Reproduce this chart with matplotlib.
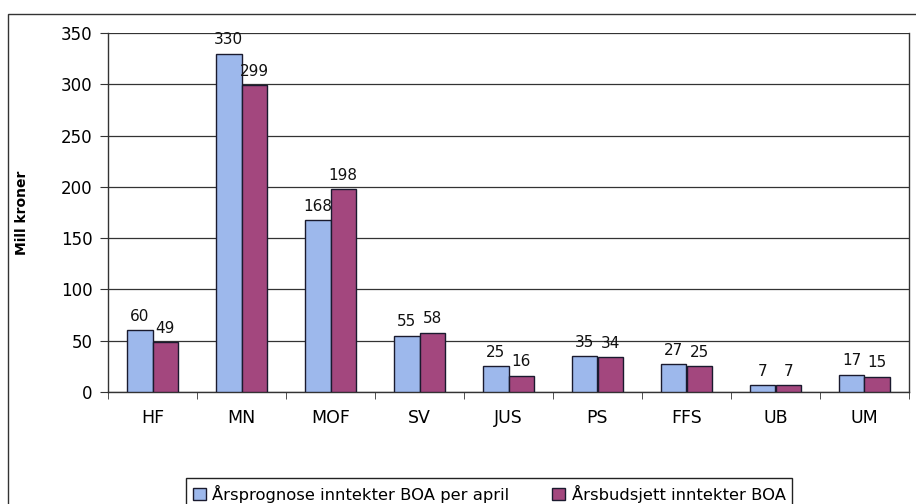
import numpy as np
import matplotlib
matplotlib.use("Agg")
import matplotlib.pyplot as plt
from matplotlib.patches import Rectangle

plt.rcParams['font.family'] = ['DejaVu Sans']

# Data
units = ["HF", "MN", "MOF", "SV", "JUS", "PS", "FFS", "UB", "UM"]
prognose = [60, 330, 168, 55, 25, 35, 27, 7, 17]
budsjett = [49, 299, 198, 58, 16, 34, 25, 7, 15]
yticks = [0, 50, 100, 150, 200, 250, 300, 350]
series_names = ["Årsprognose inntekter BOA per april", "Årsbudsjett inntekter BOA"]

blue = "#9DB8EC"
purple = "#A3477E"

fig = plt.figure(figsize=(9.16, 5.04), dpi=100)
ax = fig.add_axes([108 / 916, 1 - 392 / 504, (909 - 108) / 916, (392 - 33) / 504])

# outer chart frame (right/bottom run off the picture)
fig.patches.append(Rectangle((8 / 916, -0.1), 1.2, 1 - 14 / 504 + 0.1,
                             transform=fig.transFigure, fill=False,
                             edgecolor="#333333", linewidth=1.0))

x = np.arange(len(units))
w = 0.287
b1 = ax.bar(x - w / 2, prognose, w, color=blue, edgecolor="#1a1a2e", linewidth=1.0,
            label=series_names[0], zorder=3)
b2 = ax.bar(x + w / 2, budsjett, w, color=purple, edgecolor="#1a1a2e", linewidth=1.0,
            label=series_names[1], zorder=3)

for bars, vals in [(b1, prognose), (b2, budsjett)]:
    for r, v in zip(bars, vals):
        ax.text(r.get_x() + r.get_width() / 2, v + 6, str(v), ha="center", va="bottom",
                fontsize=11, color="#111111")

ax.set_xlim(-0.5, len(units) - 0.5)
ax.set_ylim(0, 350)
ax.set_yticks(yticks)
ax.yaxis.grid(True, color="#333333", linewidth=0.9, zorder=0)
ax.set_axisbelow(True)

ax.set_xticks(x)
ax.set_xticklabels(units, fontsize=12.5)
ax.set_xticks(np.arange(len(units) + 1) - 0.5, minor=True)
ax.tick_params(axis="x", which="major", length=0, pad=12)
ax.tick_params(axis="x", which="minor", length=5, direction="out", color="#333333")
ax.tick_params(axis="y", length=6, direction="out", labelsize=12, pad=5, color="#333333")

for s in ["left", "bottom", "right"]:
    ax.spines[s].set_color("#333333")
    ax.spines[s].set_linewidth(1.0)
ax.spines["top"].set_visible(False)

fig.text(22 / 916, 1 - 213 / 504, "Mill kroner", rotation=90, ha="center", va="center",
         fontsize=10, fontweight="bold")

leg = fig.legend(handles=[b1, b2], labels=series_names, loc="upper left",
                 bbox_to_anchor=(186 / 916, 1 - 478 / 504), ncol=2, fontsize=11.8,
                 frameon=True, fancybox=False, edgecolor="#222222", framealpha=1,
                 handlelength=0.8, handleheight=0.8, handletextpad=0.4,
                 columnspacing=2.6, borderpad=0.4, borderaxespad=0)
leg.get_frame().set_linewidth(1.0)

fig.savefig("out.png", dpi=100)
